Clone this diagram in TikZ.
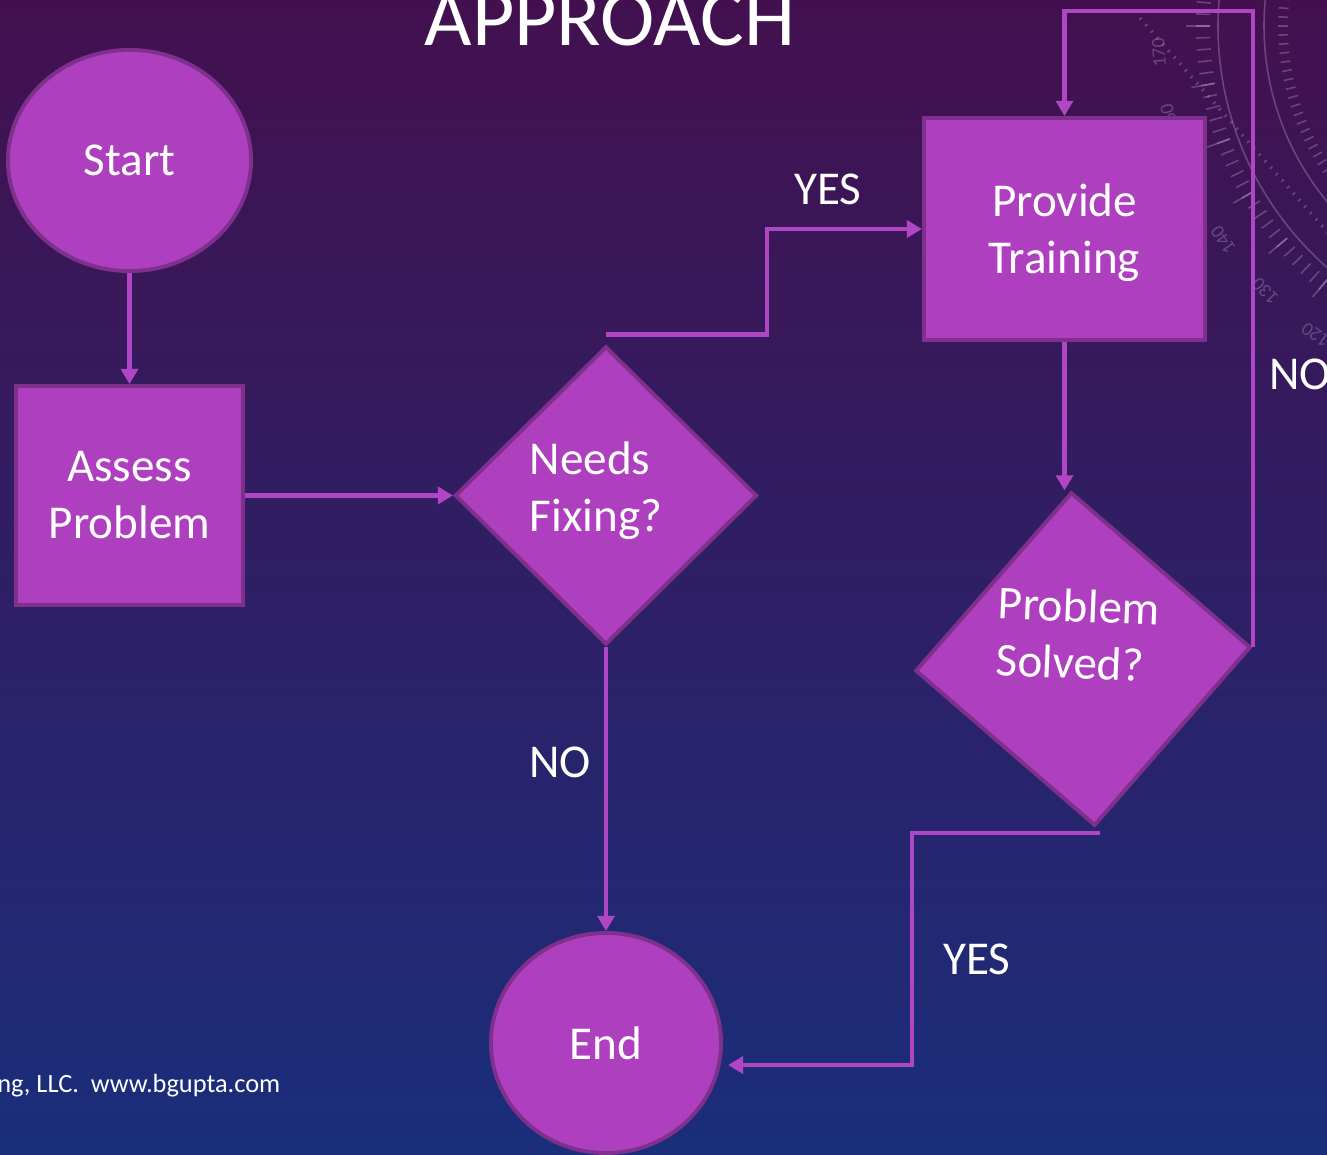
\documentclass[tikz,border=0pt]{standalone}
\usepackage{fontspec}
\setmainfont{Carlito}
\usepackage{xcolor}
\usepackage{tikz}
\usetikzlibrary{arrows.meta,shapes.geometric}

\definecolor{bgtop}{HTML}{43104F}
\definecolor{bgmid}{HTML}{2D1D64}
\definecolor{bgbot}{HTML}{1A2E7B}
\definecolor{boxfill}{HTML}{AE40BF}
\definecolor{boxline}{HTML}{7E308C}
\definecolor{linkc}{HTML}{B046C4}

\begin{document}
\begin{tikzpicture}[x=0.01cm,y=-0.01cm,
  every node/.style={text=white,font=\fontsize{13.4}{16.2}\selectfont},
  shapebase/.style={fill=boxfill,draw=boxline,line width=1.1pt,inner sep=0pt},
  terminal/.style={shapebase,ellipse},
  process/.style={shapebase,rectangle,align=center},
  decision/.style={shapebase,diamond},
  conn/.style={linkc,line width=1.2pt,-{Triangle[length=4.3pt,width=4.8pt]}},
  dial/.style={white,opacity=0.22,line width=0.45pt}]
  \useasboundingbox (0,0) rectangle (1327,1155);
  \clip (0,0) rectangle (1327,1155);
  \shade[top color=bgtop,middle color=bgmid,bottom color=bgbot] (0,0) rectangle (1327,1155);

  % 右上角的刻度盘
  \coordinate (dialc) at (1540,26);
  \draw[dial] (dialc) circle [radius=276];
  \draw[dial] (dialc) circle [radius=322];
  \foreach \a in {100,102,...,200}
  \draw[dial] (dialc) ++(\a:252) -- ++(\a:10);
  \foreach \a in {100,102,...,200}
  \draw[dial] (dialc) ++(\a:330) -- ++(\a:14);
  \foreach \a in {100,110,...,200}
  \draw[dial] (dialc) ++(\a:330) -- ++(\a:24);
  \foreach \n in {120,130,...,170}
  \path (dialc) ++({\n+6}:382) node[dial,inner sep=0pt,font=\fontsize{5.5}{6}\selectfont,rotate=264-\n] {\n};
  \draw[dial,dotted,line width=1pt] (1140,18) -- (1330,235);

  % 标题和页脚
  \node[font=\fontsize{23.3}{28}\selectfont,anchor=base] (title) at (610,46) {APPROACH};
  \node[font=\fontsize{7.5}{9}\selectfont,inner sep=0pt,anchor=base east] (footer) at (281,1092) {ng, LLC.\ \ www.bgupta.com};

  % 流程图
  \node[terminal,minimum width=2.43cm,minimum height=2.21cm] (start) at (129.5,160.5) {Start};
  \node[process,minimum width=2.27cm,minimum height=2.19cm] (assess) at (129.5,495.5) {Assess\\Problem};
  \node[decision,minimum width=3.02cm,minimum height=2.98cm] (fixing) at (606,495.5) {};
  \node[align=left] (fixingtext) at (596,491) {Needs\\Fixing?};
  \node[process,text depth=0pt,minimum width=2.81cm,minimum height=2.22cm] (training) at (1064.5,229) {Provide\\Training};
  \node[decision,minimum width=3.36cm,minimum height=3.34cm,rotate=4] (solved) at (1083,659) {};
  \node[align=left,rotate=-2.4] (solvedtext) at (1078,634) {Problem\\Solved?};
  \node[terminal,minimum width=2.30cm,minimum height=2.20cm] (end) at (606,1043) {End};

  \draw[conn] (start) -- (assess);
  \draw[conn] (assess) -- (fixing);
  \draw[conn] ([yshift=1mm]fixing.north) -| ([xshift=-1.55cm]training.west) -- (training.west);
  \draw[conn] (training) -- (training.south |- solved.north);
  \draw[conn] (solved.east) |- ([yshift=1.05cm]training.north) -- (training.north);
  \draw[conn] ([xshift=0.5mm,yshift=-0.5mm]solved.south) -- ++(-188,0) |- ([xshift=0.5mm,yshift=-2.2mm]end.east);
  \draw[conn] (fixing) -- (end);

  \node (yesup) at (828,189) {YES};
  \node (noright) at (1300,374) {NO};
  \node (nodown) at (560,762) {NO};
  \node (yesdown) at (977,959) {YES};
\end{tikzpicture}
\end{document}
